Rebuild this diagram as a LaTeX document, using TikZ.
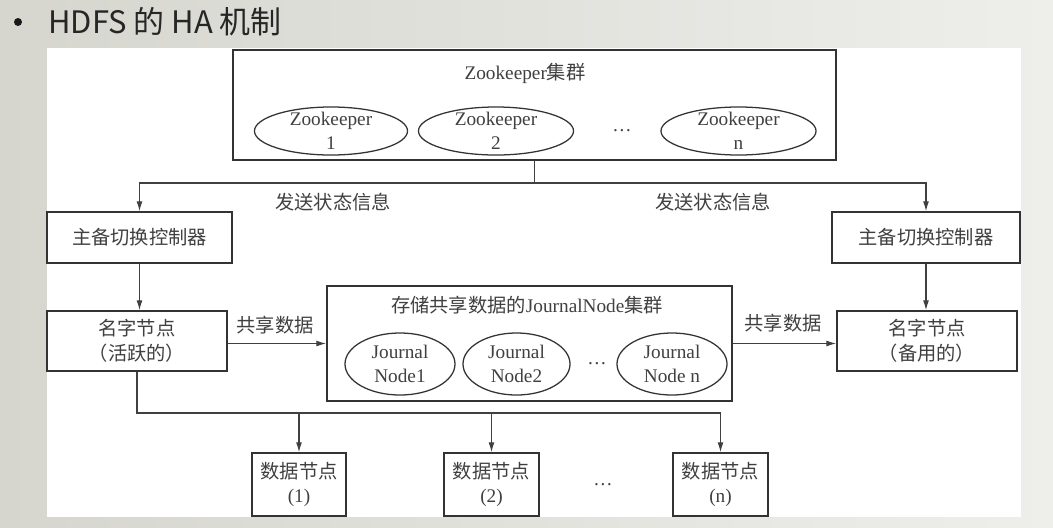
\documentclass[tikz,border=0pt]{standalone}
\usepackage{fontspec}
\setmainfont{Liberation Serif}
\newfontfamily\cjk{Noto Sans CJK SC}
\usetikzlibrary{arrows.meta,shapes.geometric}
\definecolor{slidegrayL}{RGB}{214,214,207}
\definecolor{slidegrayR}{RGB}{238,238,235}
\newcommand{\figfont}{\fontsize{13.7}{17.5}\selectfont}

\begin{document}
\begin{tikzpicture}[x=0.025cm,y=-0.025cm,>={Latex[length=7pt,width=4.2pt]},
    box/.style={draw=black!80,line width=1.1pt,fill=white,inner sep=0pt},
    ell/.style={ellipse,draw=black!80,line width=0.9pt,inner sep=0pt},
    txt/.style={align=center,inner sep=0pt,text=black!75,font=\figfont},
    conn/.style={draw=black!75,line width=0.8pt}]
    % slide background
    \shade[left color=slidegrayL,right color=slidegrayR] (0,0) rectangle (1053,527);
    \fill[white] (47,48) rectangle (1021,517);
    \useasboundingbox (0,0) rectangle (1053,527);
    % title
    \node[circle,fill=black!90,inner sep=0pt,minimum size=0.2cm] (bullet) at (18,22) {};
    \node[anchor=base west,inner sep=0pt,text=black!85,font=\cjk\fontsize{22}{26}\selectfont] (title) at (48,33) {HDFS 的 HA 机制};
    % zookeeper cluster
    \node[box,minimum width=15.075cm,minimum height=2.75cm] (zk) at (534.5,105) {};
    \node[txt] (zktitle) at (525,73) {Zookeeper{\cjk 集群}};
    \node[ell,minimum width=3.825cm,minimum height=1.2cm] (zk1) at (331,131) {};
    \node[txt] (zk1t) at (zk1) {Zookeeper\\1};
    \node[ell,minimum width=3.875cm,minimum height=1.2cm] (zk2) at (496,131) {};
    \node[txt] (zk2t) at (zk2) {Zookeeper\\2};
    \node[txt] (zkdots) at (622,131) {\dots};
    \node[ell,minimum width=3.875cm,minimum height=1.2cm] (zkn) at (738.5,131) {};
    \node[txt] (zknt) at (zkn) {Zookeeper\\n};
    % failover controllers
    \node[box,minimum width=4.625cm,minimum height=1.275cm] (ctlL) at (139.5,237.5) {};
    \node[txt] (ctlLt) at (ctlL) {\cjk 主备切换控制器};
    \node[box,minimum width=4.7cm,minimum height=1.275cm] (ctlR) at (926,237.5) {};
    \node[txt] (ctlRt) at (ctlR) {\cjk 主备切换控制器};
    \coordinate (fork) at (534.5,183);
    \draw[conn] (zk.south) -- (fork);
    \draw[conn,->] (fork) -| (ctlL.north);
    \draw[conn,->] (fork) -| (ctlR.north);
    \node[txt] (sendL) at (333,202) {\cjk 发送状态信息};
    \node[txt] (sendR) at (713,202) {\cjk 发送状态信息};
    % name nodes
    \node[box,minimum width=4.5cm,minimum height=1.5cm] (nnL) at (137,341) {};
    \node[txt] (nnLt) at (nnL) {\cjk 名字节点\\\cjk （活跃的）};
    \node[box,minimum width=4.5cm,minimum height=1.5cm] (nnR) at (927,341) {};
    \node[txt] (nnRt) at (nnR) {\cjk 名字节点\\\cjk （备用的）};
    \draw[conn,->] (ctlL.south) -- (ctlL.south |- nnL.north);
    \draw[conn,->] (ctlR.south) -- (ctlR.south |- nnR.north);
    % journal node cluster
    \node[box,minimum width=10.125cm,minimum height=2.875cm] (jn) at (529.5,343.5) {};
    \node[txt] (jntitle) at (527,305) {{\cjk 存储共享数据的}JournalNode{\cjk 集群}};
    \node[ell,minimum width=2.75cm,minimum height=1.55cm] (jn1) at (400,364) {};
    \node[txt] (jn1t) at (jn1) {Journal\\Node1};
    \node[ell,minimum width=2.675cm,minimum height=1.55cm] (jn2) at (516.5,364) {};
    \node[txt] (jn2t) at (jn2) {Journal\\Node2};
    \node[txt] (jndots) at (597,364) {\dots};
    \node[ell,minimum width=2.75cm,minimum height=1.55cm] (jnn) at (672,364) {};
    \node[txt] (jnnt) at (jnn) {Journal\\Node n};
    \draw[conn,->] (jn.west -| nnL.east) -- (jn.west);
    \draw[conn,->] (jn.east) -- (jn.east -| nnR.west);
    \node[txt] (shareL) at (275,325) {\cjk 共享数据};
    \node[txt] (shareR) at (783,323) {\cjk 共享数据};
    % data nodes
    \node[box,minimum width=2.35cm,minimum height=1.575cm] (dn1) at (299,484.5) {};
    \node[txt] (dn1t) at (dn1) {{\cjk 数据节点}\\(1)};
    \node[box,minimum width=2.375cm,minimum height=1.575cm] (dn2) at (491.5,484.5) {};
    \node[txt] (dn2t) at (dn2) {{\cjk 数据节点}\\(2)};
    \node[txt] (dndots) at (603,485) {\dots};
    \node[box,minimum width=2.375cm,minimum height=1.575cm] (dnn) at (720.5,484.5) {};
    \node[txt] (dnnt) at (dnn) {{\cjk 数据节点}\\(n)};
    \coordinate (bus) at (137,413);
    \draw[conn,->] (nnL.south) |- (dnn.north |- bus) -- (dnn.north);
    \draw[conn,->] (dn1.north |- bus) -- (dn1.north);
    \draw[conn,->] (dn2.north |- bus) -- (dn2.north);
\end{tikzpicture}
\end{document}
